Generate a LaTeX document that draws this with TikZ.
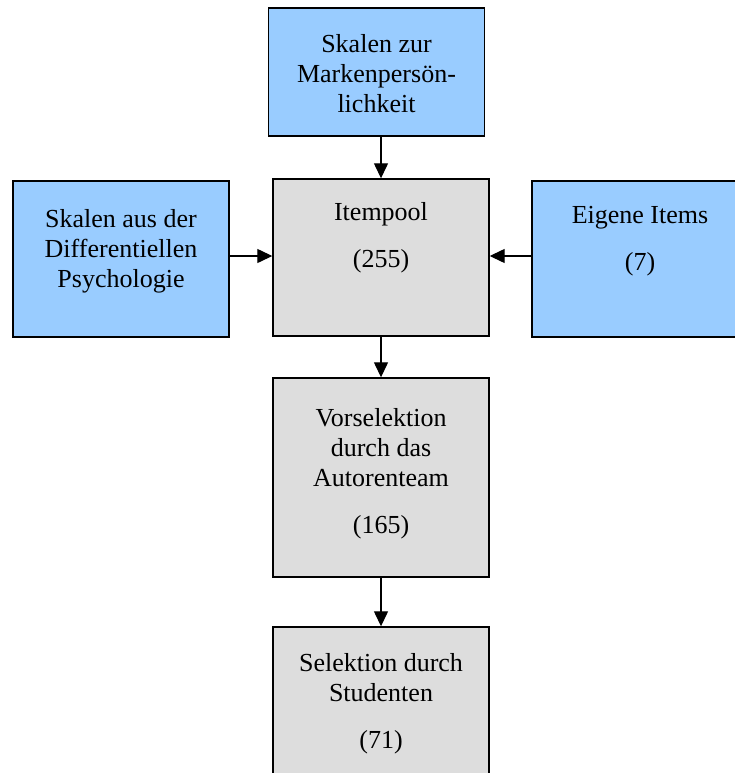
\documentclass[tikz,border=0pt]{standalone}
\usepackage{fontspec}
\setmainfont{Liberation Serif}
\usetikzlibrary{arrows.meta,positioning}
\definecolor{skalenblau}{HTML}{99CCFF}
\definecolor{poolgrau}{HTML}{DDDDDD}
\tikzset{
  blaubox/.style={draw, line width=1.4pt, fill=skalenblau, minimum width=216pt, inner sep=0pt},
  graubox/.style={draw, line width=1.4pt, fill=poolgrau, minimum width=216pt, inner sep=0pt},
  boxtext/.style={anchor=north, align=center, inner sep=0pt, font=\fontsize{26pt}{30pt}\selectfont},
  pfeil/.style={line width=1.3pt, -{Triangle[length=15pt,width=14pt]}}
}
\begin{document}
\begin{tikzpicture}
    \useasboundingbox (0pt,0pt) rectangle (735pt,-773pt);
    \node[blaubox, minimum height=128pt] (mpers) at (376.5pt,-72pt) {};
    \node[boxtext] at ([yshift=-27pt]mpers.north) {Skalen zur\\Markenpersön-\\lichkeit};
    \node[graubox, minimum height=157pt] (pool) at (381pt,-257.5pt) {};
    \node[boxtext] at ([yshift=-24pt]pool.north) {Itempool\\[17pt](255)};
    \node[blaubox, minimum height=156pt] (diffpsy) at (121pt,-259pt) {};
    \node[boxtext] at ([yshift=-29pt]diffpsy.north) {Skalen aus der\\Differentiellen\\Psychologie};
    \node[blaubox, minimum height=156pt] (eigene) at (640pt,-259pt) {};
    \node[boxtext] at ([yshift=-26pt]eigene.north) {Eigene Items\\[17pt](7)};
    \node[graubox, minimum height=199pt] (vorsel) at (381pt,-477.5pt) {};
    \node[boxtext] at ([yshift=-31pt]vorsel.north) {Vorselektion\\durch das\\Autorenteam\\[17pt](165)};
    \node[graubox, minimum height=190pt] (studsel) at (381pt,-722pt) {};
    \node[boxtext] at ([yshift=-27pt]studsel.north) {Selektion durch\\Studenten\\[17pt](71)};
    % Pfeile
    \draw[pfeil] (pool.north |- mpers.south) -- (pool.north);
    \draw[pfeil] (diffpsy.east |- 0,-256pt) -- (pool.west |- 0,-256pt);
    \draw[pfeil] (eigene.west |- 0,-256pt) -- (pool.east |- 0,-256pt);
    \draw[pfeil] (pool.south) -- (vorsel.north);
    \draw[pfeil] (vorsel.south) -- (studsel.north);
\end{tikzpicture}
\end{document}
